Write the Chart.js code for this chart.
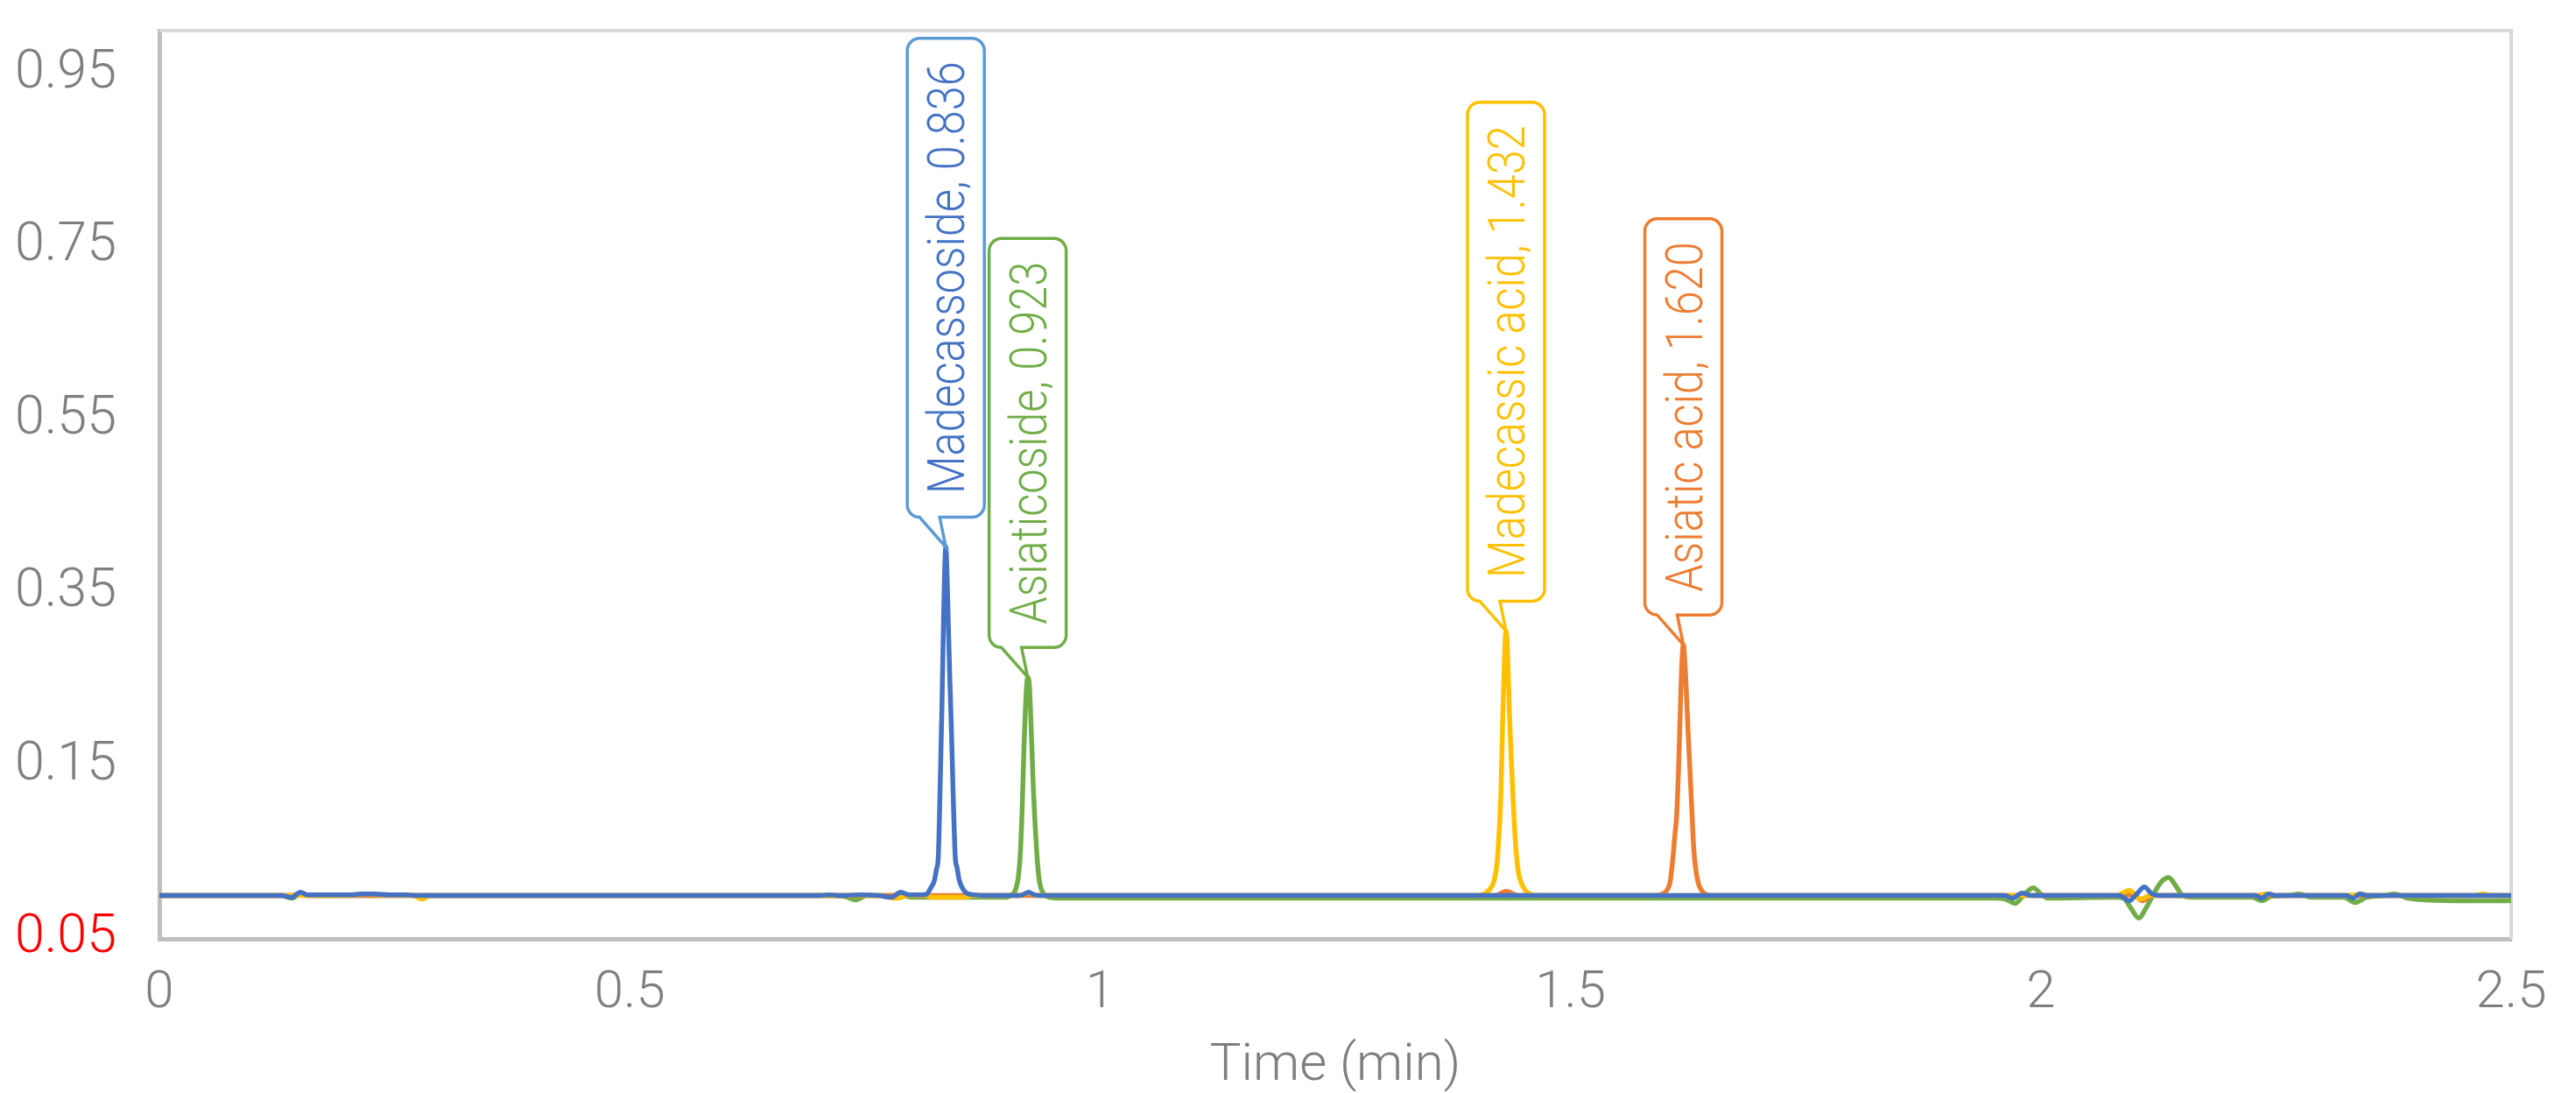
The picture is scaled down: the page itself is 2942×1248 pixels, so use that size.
<!DOCTYPE html>
<html>
<head>
<meta charset="utf-8">
<title>Centella triterpenes chromatogram</title>
<script src="https://cdn.jsdelivr.net/npm/chart.js@4.4.1/dist/chart.umd.min.js"></script>
<style>
  html, body { margin: 0; padding: 0; background: #fff; overflow: hidden; }
  canvas { display: block; }
</style>
</head>
<body>
<canvas id="chromChart" width="2942" height="1248"></canvas>
<script>
// [time (min), signal]
const madecassosideTrace = [
  [0, 0], [0.130, 0], [0.141, -0.002], [0.150, 0.004], [0.157, 0.001], [0.168, 0.001],
  [0.205, 0.001], [0.215, 0.002], [0.228, 0.002], [0.245, 0.001], [0.262, 0.001], [0.275, 0],
  [0.700, 0], [0.712, 0.001], [0.725, 0], [0.745, 0.001], [0.765, 0], [0.778, -0.002],
  [0.788, 0.004], [0.797, 0.001], [0.810, 0.001], [0.816, 0.002], [0.820, 0.009], [0.824, 0.018],
  [0.826, 0.030], [0.828, 0.045], [0.830, 0.127], [0.832, 0.225], [0.834, 0.340], [0.836, 0.403],
  [0.838, 0.342], [0.840, 0.260], [0.842, 0.190], [0.844, 0.110], [0.846, 0.045], [0.848, 0.032],
  [0.850, 0.019], [0.854, 0.008], [0.858, 0.003], [0.866, 0.001], [0.880, 0], [0.912, 0],
  [0.918, 0.001], [0.924, 0.004], [0.930, 0.001], [0.937, 0], [1.000, 0], [1.300, 0],
  [1.600, 0], [1.900, 0], [1.962, 0], [1.970, -0.003], [1.980, 0.003], [1.990, 0],
  [2.084, 0], [2.094, -0.006], [2.102, 0.002], [2.110, 0.010], [2.118, 0.002], [2.126, 0],
  [2.228, 0], [2.235, -0.003], [2.242, 0.002], [2.250, 0], [2.325, 0], [2.332, -0.003],
  [2.339, 0.002], [2.347, 0], [2.500, 0]
];

const madecassicAcidTrace = [
  [0, 0], [0.200, 0], [0.215, 0.002], [0.240, 0.001], [0.270, 0], [0.279, -0.004], [0.288, 0],
  [0.700, 0], [0.760, 0], [0.785, -0.003], [0.795, 0], [0.815, 0], [0.822, -0.002], [0.855, -0.002],
  [0.865, 0], [0.914, 0], [0.924, 0.003], [0.934, 0], [1.400, 0], [1.408, 0.002], [1.412, 0.005],
  [1.416, 0.010], [1.419, 0.018], [1.422, 0.038], [1.424, 0.070], [1.426, 0.115], [1.428, 0.205],
  [1.430, 0.280], [1.4315, 0.306], [1.433, 0.285], [1.435, 0.215], [1.437, 0.160], [1.439, 0.112],
  [1.441, 0.070], [1.443, 0.042], [1.445, 0.025], [1.448, 0.014], [1.452, 0.006], [1.457, 0.002],
  [1.465, 0], [2.080, 0], [2.094, 0.006], [2.106, -0.004], [2.116, 0], [2.230, 0], [2.240, 0.002],
  [2.250, 0], [2.330, 0], [2.340, 0.002], [2.350, 0], [2.460, 0], [2.470, 0.002], [2.480, 0], [2.500, 0]
];

const asiaticAcidTrace = [
  [0, 0], [0.140, 0], [0.148, 0.002], [0.156, 0], [0.700, 0], [1.420, 0], [1.432, 0.005], [1.444, 0],
  [1.590, 0], [1.598, 0.002], [1.603, 0.007], [1.606, 0.016], [1.609, 0.045], [1.611, 0.070],
  [1.613, 0.095], [1.615, 0.150], [1.617, 0.225], [1.6185, 0.270], [1.620, 0.290], [1.6215, 0.272],
  [1.623, 0.240], [1.625, 0.190], [1.627, 0.145], [1.629, 0.100], [1.631, 0.055], [1.633, 0.032],
  [1.636, 0.014], [1.640, 0.005], [1.645, 0.001], [1.655, 0], [2.090, 0], [2.098, 0.002],
  [2.108, -0.006], [2.118, 0], [2.500, 0]
];

const asiaticosideTrace = [
  [0, 0], [0.130, 0], [0.141, -0.003], [0.150, 0.002], [0.160, 0], [0.700, 0], [0.728, -0.001],
  [0.740, -0.005], [0.752, 0], [0.790, 0], [0.800, -0.002], [0.900, -0.002], [0.906, 0.001],
  [0.909, 0.004], [0.911, 0.010], [0.913, 0.021], [0.915, 0.045], [0.917, 0.095], [0.919, 0.168],
  [0.921, 0.225], [0.923, 0.2525], [0.925, 0.240], [0.927, 0.185], [0.929, 0.125], [0.931, 0.080],
  [0.933, 0.045], [0.935, 0.020], [0.937, 0.009], [0.940, 0.002], [0.946, -0.002], [0.960, -0.003],
  [1.300, -0.003], [1.600, -0.003], [1.950, -0.003], [1.962, -0.004], [1.973, -0.009], [1.982, 0.001],
  [1.992, 0.009], [2.000, 0.002], [2.008, -0.003], [2.080, -0.002], [2.088, -0.003], [2.096, -0.015],
  [2.104, -0.026], [2.112, -0.014], [2.120, 0.002], [2.128, 0.016], [2.136, 0.021], [2.143, 0.012],
  [2.150, 0.001], [2.160, -0.002], [2.225, -0.002], [2.235, -0.006], [2.245, -0.001], [2.262, 0],
  [2.275, 0.002], [2.288, -0.002], [2.322, -0.002], [2.334, -0.008], [2.346, -0.002], [2.365, 0],
  [2.376, 0.002], [2.390, -0.003], [2.410, -0.005], [2.450, -0.006], [2.500, -0.006]
];

const peakNames = ['Madecassoside', 'Asiaticoside', 'Madecassic acid', 'Asiatic acid'];
const peakTimes = ['0.836', '0.923', '1.432', '1.620'];
const xTicks = [0, 0.5, 1, 1.5, 2, 2.5];
const yTicks = [-0.05, 0.15, 0.35, 0.55, 0.75, 0.95];

const BLUE = '#4472C4', GREEN = '#70AD47', YELLOW = '#FFC000', ORANGE = '#ED7D31';
const AXIS_GREY = '#7F7F7F';

function toPoints(trace) {
  return trace.map(([x, y]) => ({ x, y }));
}

function line(label, trace, color) {
  return {
    label,
    data: toPoints(trace),
    borderColor: color,
    borderWidth: 5.5,
    pointRadius: 0,
    borderJoinStyle: 'round',
    borderCapStyle: 'round',
    cubicInterpolationMode: 'monotone'
  };
}

// callout boxes: which dataset, border colour, text colour
const callouts = [
  { dataset: 0, border: '#5B9BD5', text: BLUE },
  { dataset: 3, border: GREEN, text: GREEN },
  { dataset: 1, border: YELLOW, text: YELLOW },
  { dataset: 2, border: ORANGE, text: ORANGE }
];

const plotFrame = {
  id: 'plotFrame',
  beforeDatasetsDraw(chart) {
    const { ctx, chartArea: a } = chart;
    ctx.save();
    ctx.strokeStyle = '#D9D9D9';
    ctx.lineWidth = 4;
    ctx.beginPath();
    ctx.moveTo(a.left, a.top);
    ctx.lineTo(a.right, a.top);
    ctx.lineTo(a.right, a.bottom);
    ctx.stroke();
    ctx.restore();
  }
};

const peakCallouts = {
  id: 'peakCallouts',
  afterDatasetsDraw(chart) {
    const { ctx, scales: { x, y } } = chart;
    const stretch = 0.84, fontSize = 60, rad = 14;
    ctx.save();
    ctx.font = '300 ' + fontSize + 'px Roboto, "Open Sans", sans-serif';
    callouts.forEach((c, i) => {
      const pts = chart.data.datasets[c.dataset].data;
      const peak = pts.reduce((a, b) => (b.y > a.y ? b : a));
      const tx = x.getPixelForValue(peak.x);
      const ty = y.getPixelForValue(peak.y);
      const text = peakNames[i] + ', ' + peakTimes[i];
      const len = ctx.measureText(text).width * stretch;
      const l = tx - 44, r = tx + 44, b = ty - 34, t = b - (len + 53);

      ctx.beginPath();
      ctx.moveTo(l + rad, t);
      ctx.lineTo(r - rad, t);
      ctx.arcTo(r, t, r, t + rad, rad);
      ctx.lineTo(r, b - rad);
      ctx.arcTo(r, b, r - rad, b, rad);
      ctx.lineTo(tx - 7, b);
      ctx.lineTo(tx, ty);
      ctx.lineTo(l + rad, b);
      ctx.arcTo(l, b, l, b - rad, rad);
      ctx.lineTo(l, t + rad);
      ctx.arcTo(l, t, l + rad, t, rad);
      ctx.closePath();
      ctx.fillStyle = '#FFFFFF';
      ctx.fill();
      ctx.strokeStyle = c.border;
      ctx.lineWidth = 3.5;
      ctx.stroke();

      ctx.save();
      ctx.translate(tx, (t + b) / 2);
      ctx.rotate(-Math.PI / 2);
      ctx.scale(stretch, 1);
      ctx.fillStyle = c.text;
      ctx.textAlign = 'center';
      ctx.textBaseline = 'alphabetic';
      ctx.fillText(text, 0, fontSize * 0.355);
      ctx.restore();
    });
    ctx.restore();
  }
};

const ctx = document.getElementById('chromChart').getContext('2d');
new Chart(ctx, {
  type: 'line',
  data: {
    datasets: [
      line('Madecassoside', madecassosideTrace, BLUE),
      line('Madecassic acid', madecassicAcidTrace, YELLOW),
      line('Asiatic acid', asiaticAcidTrace, ORANGE),
      line('Asiaticoside', asiaticosideTrace, GREEN)
    ]
  },
  options: {
    responsive: false,
    devicePixelRatio: 1,
    animation: false,
    parsing: false,
    layout: { padding: { top: 35, right: 74, left: 0, bottom: 0 } },
    plugins: {
      legend: { display: false },
      tooltip: { enabled: false }
    },
    scales: {
      x: {
        type: 'linear',
        position: 'bottom',
        min: 0,
        max: 2.5,
        afterBuildTicks: (scale) => { scale.ticks = xTicks.map(v => ({ value: v })); },
        afterFit: (scale) => { scale.height = 176; scale.paddingLeft = 0; scale.paddingRight = 0; },
        grid: { display: false, drawTicks: false },
        border: { display: true, color: '#BFBFBF', width: 5 },
        ticks: {
          autoSkip: false,
          maxRotation: 0,
          padding: 27,
          color: AXIS_GREY,
          font: { family: 'Roboto', size: 60, weight: '300' },
          callback: (v) => String(v)
        },
        title: {
          display: true,
          text: 'Time (min)',
          color: AXIS_GREY,
          padding: { top: 0, bottom: 0 },
          font: { family: 'Roboto', size: 60, weight: '300', lineHeight: 1 }
        }
      },
      y: {
        type: 'linear',
        position: 'left',
        min: -0.05,
        max: 1.0,
        afterBuildTicks: (scale) => { scale.ticks = yTicks.map(v => ({ value: v })); },
        afterFit: (scale) => { scale.width = 182; scale.paddingTop = 0; scale.paddingBottom = 0; },
        grid: { display: false, drawTicks: false },
        border: { display: true, color: '#BFBFBF', width: 5 },
        ticks: {
          autoSkip: false,
          padding: 49,
          color: (c) => (c.tick && c.tick.value < 0 ? '#FF0000' : AXIS_GREY),
          font: { family: 'Roboto', size: 61, weight: '300' },
          callback: (v) => Math.abs(v).toFixed(2)
        }
      }
    }
  },
  plugins: [plotFrame, peakCallouts]
});
</script>
</body>
</html>
